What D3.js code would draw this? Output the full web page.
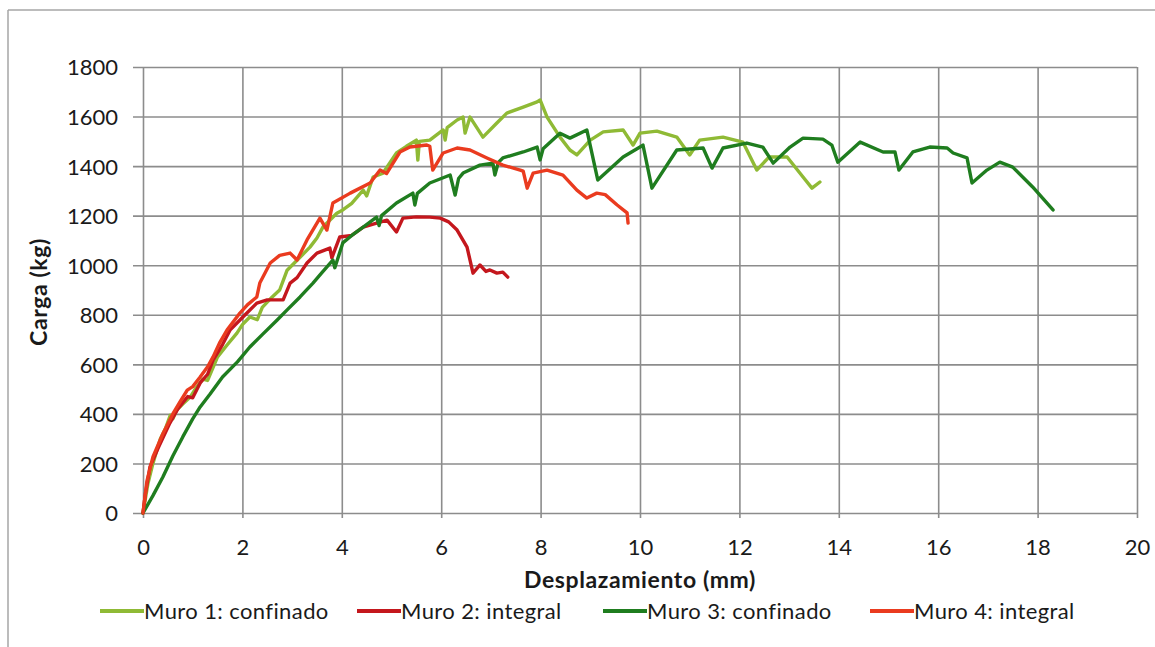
<!DOCTYPE html>
<html>
<head>
<meta charset="utf-8">
<script src="https://cdn.jsdelivr.net/npm/d3@7"></script>
<style>
  body { margin: 0; background: #fff; }
  text { font-family: Lato, "Open Sans", sans-serif; fill: #1a1a1a; }
  .grid line { stroke: #8c8c8c; stroke-width: 1.6; }
  .grid path { display: none; }
</style>
</head>
<body>
<div id="chart"></div>
<script>
const xTicks = [0, 2, 4, 6, 8, 10, 12, 14, 16, 18, 20];
const yTicks = [0, 200, 400, 600, 800, 1000, 1200, 1400, 1600, 1800];

const seriesNames = ["Muro 1: confinado", "Muro 2: integral", "Muro 3: confinado", "Muro 4: integral"];
const seriesColors = ["#8fba35", "#c4171d", "#1f7d1f", "#ea3b1f"];

// desplazamiento (mm), carga (kg)
const muro1 = [[0,0],[0.1,120],[0.2,200],[0.28,254],[0.35,300],[0.45,340],[0.55,395],[0.6,380],[0.68,416],[0.8,440],[0.95,468],[1.05,500],[1.2,540],[1.3,535],[1.5,630],[1.7,680],[1.89,726],[2.0,760],[2.15,791],[2.3,780],[2.4,830],[2.6,872],[2.75,900],[2.9,980],[3.1,1020],[3.36,1073],[3.5,1110],[3.62,1154],[3.9,1210],[4.02,1223],[4.2,1250],[4.43,1303],[4.5,1280],[4.63,1356],[4.83,1372],[5.1,1453],[5.3,1480],[5.5,1505],[5.53,1424],[5.56,1500],[5.77,1505],[6.04,1546],[6.08,1505],[6.12,1555],[6.32,1586],[6.44,1598],[6.48,1533],[6.58,1598],[6.84,1517],[7.12,1574],[7.32,1614],[7.65,1638],[7.93,1659],[7.99,1667],[8.13,1598],[8.39,1517],[8.59,1465],[8.73,1445],[9.0,1505],[9.26,1538],[9.66,1546],[9.86,1485],[10.0,1533],[10.34,1541],[10.74,1517],[11.0,1445],[11.2,1505],[11.67,1517],[12.07,1497],[12.35,1384],[12.6,1437],[12.96,1437],[13.28,1356],[13.46,1311],[13.62,1336]];

const muro2 = [[0,0],[0.05,80],[0.14,186],[0.3,260],[0.54,363],[0.7,420],[0.9,470],[1.0,465],[1.15,525],[1.3,560],[1.41,617],[1.6,680],[1.75,738],[2.01,791],[2.29,847],[2.5,860],[2.82,860],[2.96,928],[3.1,950],[3.3,1009],[3.5,1049],[3.76,1069],[3.8,1030],[3.96,1114],[4.2,1120],[4.43,1154],[4.7,1170],[4.91,1182],[5.1,1134],[5.23,1190],[5.5,1195],[5.77,1194],[5.98,1190],[6.15,1175],[6.32,1142],[6.52,1073],[6.64,968],[6.78,1001],[6.9,975],[6.98,981],[7.12,968],[7.24,972],[7.34,952]];

const muro3 = [[0,0],[0.2,70],[0.4,145],[0.6,230],[0.8,307],[1.0,380],[1.15,428],[1.35,480],[1.6,549],[1.9,610],[2.15,670],[2.4,720],[2.7,779],[2.9,820],[3.16,872],[3.42,928],[3.6,970],[3.82,1021],[3.86,990],[4.02,1090],[4.2,1120],[4.43,1154],[4.7,1194],[4.75,1160],[4.8,1200],[5.1,1251],[5.43,1291],[5.47,1243],[5.52,1290],[5.77,1332],[6.18,1364],[6.28,1283],[6.35,1350],[6.44,1372],[6.78,1404],[7.04,1412],[7.08,1364],[7.15,1415],[7.24,1433],[7.65,1457],[7.93,1477],[7.99,1425],[8.05,1470],[8.39,1533],[8.59,1513],[8.93,1546],[9.15,1344],[9.66,1437],[10.0,1477],[10.06,1485],[10.24,1311],[10.74,1465],[11.27,1473],[11.45,1392],[11.67,1473],[12.15,1493],[12.47,1477],[12.68,1412],[13.02,1477],[13.28,1513],[13.68,1509],[13.86,1485],[13.98,1416],[14.43,1497],[14.89,1457],[15.13,1457],[15.21,1384],[15.49,1457],[15.83,1477],[16.18,1473],[16.3,1453],[16.58,1433],[16.68,1332],[16.98,1384],[17.24,1416],[17.5,1396],[17.9,1316],[18.31,1223]];

const muro4 = [[0,0],[0.08,130],[0.2,226],[0.4,320],[0.6,400],[0.75,450],[0.89,496],[1.0,510],[1.15,549],[1.3,590],[1.41,630],[1.55,690],[1.69,738],[1.95,807],[2.1,840],[2.29,872],[2.35,928],[2.56,1009],[2.75,1040],[2.96,1049],[3.1,1021],[3.3,1102],[3.56,1190],[3.7,1142],[3.82,1251],[4.17,1291],[4.57,1332],[4.77,1384],[4.9,1370],[5.17,1457],[5.37,1477],[5.71,1485],[5.77,1480],[5.83,1384],[6.04,1453],[6.32,1473],[6.58,1465],[6.92,1433],[7.24,1404],[7.59,1384],[7.65,1380],[7.73,1311],[7.85,1372],[8.13,1384],[8.45,1364],[8.73,1303],[8.93,1271],[9.13,1291],[9.3,1285],[9.54,1243],[9.74,1211],[9.76,1170]];

const allSeries = [muro1, muro2, muro3, muro4];

const width = 1155, height = 647;
const margin = { top: 67, right: 18, bottom: 134, left: 143 };

const svg = d3.select("#chart").append("svg")
  .attr("width", width)
  .attr("height", height);

// outer frame (top and left edges visible in the scan)
svg.append("line").attr("x1", 8).attr("x2", width).attr("y1", 10).attr("y2", 10)
  .attr("stroke", "#a6a6a6").attr("stroke-width", 1.5);
svg.append("line").attr("x1", 8).attr("x2", 8).attr("y1", 10).attr("y2", height)
  .attr("stroke", "#a6a6a6").attr("stroke-width", 1.5);

const xScale = d3.scaleLinear().domain([0, 20]).range([margin.left, width - margin.right]);
const yScale = d3.scaleLinear().domain([0, 1800]).range([height - margin.bottom, margin.top]);

const xAxis = d3.axisBottom(xScale)
  .tickValues(xTicks)
  .tickFormat(d3.format("d"))
  .tickSize(-(yScale(0) + 5 - margin.top))
  .tickSizeOuter(0)
  .tickPadding(21);

const yAxis = d3.axisLeft(yScale)
  .tickValues(yTicks)
  .tickFormat(d3.format("d"))
  .tickSize(-(xScale(20) - margin.left + 10))
  .tickSizeOuter(0)
  .tickPadding(15);

svg.append("g")
  .attr("class", "grid x-axis")
  .attr("transform", `translate(0,${yScale(0) + 5})`)
  .call(xAxis)
  .selectAll("text")
  .attr("font-size", 22);

svg.append("g")
  .attr("class", "grid y-axis")
  .attr("transform", `translate(${margin.left - 10},0)`)
  .call(yAxis)
  .selectAll("text")
  .attr("font-size", 22)
  .attr("dy", "0.36em");

svg.append("text")
  .attr("x", 640)
  .attr("y", 588)
  .attr("text-anchor", "middle")
  .attr("font-size", 23)
  .attr("font-weight", "bold")
  .attr("letter-spacing", 0.6)
  .text("Desplazamiento (mm)");

svg.append("text")
  .attr("transform", "translate(47,292) rotate(-90)")
  .attr("text-anchor", "middle")
  .attr("font-size", 23)
  .attr("font-weight", "bold")
  .attr("letter-spacing", 0.6)
  .text("Carga (kg)");

const line = d3.line()
  .x(d => xScale(d[0]))
  .y(d => yScale(d[1]))
  .curve(d3.curveLinear);

svg.selectAll(".serie")
  .data(allSeries)
  .join("path")
  .attr("class", "serie")
  .attr("fill", "none")
  .attr("stroke", (d, i) => seriesColors[i])
  .attr("stroke-width", 3.4)
  .attr("stroke-linejoin", "round")
  .attr("stroke-linecap", "round")
  .attr("d", line);

// legend
const legendX = [100, 357, 603, 870];
const legend = svg.selectAll(".legend")
  .data(seriesNames)
  .join("g")
  .attr("class", "legend")
  .attr("transform", (d, i) => `translate(${legendX[i]},611)`);

legend.append("line")
  .attr("x1", 0).attr("x2", 44)
  .attr("stroke", (d, i) => seriesColors[i])
  .attr("stroke-width", 4);

legend.append("text")
  .attr("x", 44)
  .attr("y", 8)
  .attr("font-size", 22)
  .attr("letter-spacing", 0.4)
  .text(d => d);
</script>
</body>
</html>
